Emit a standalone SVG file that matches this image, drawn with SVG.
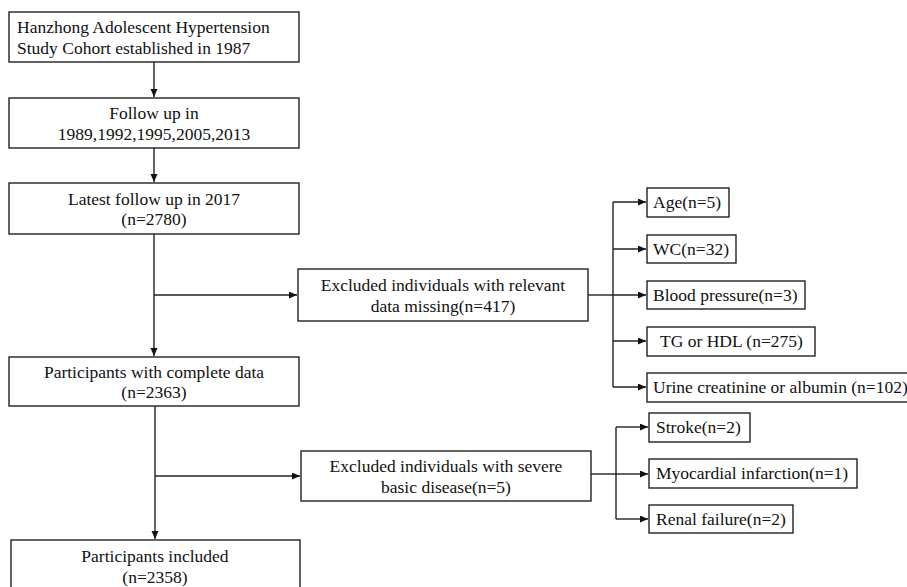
<svg xmlns="http://www.w3.org/2000/svg" width="907" height="587" viewBox="0 0 907 587">
<style>
.box{fill:#fff;stroke:#222;stroke-width:1.4}
.t{font-family:"Liberation Serif","Times New Roman",serif;font-size:17.5px;fill:#111}
.c{text-anchor:middle}
.ln{fill:none;stroke:#222;stroke-width:1.4}
</style>
<defs>
<marker id="ah" markerUnits="userSpaceOnUse" markerWidth="9" markerHeight="8" refX="8" refY="3.5" orient="auto">
<path d="M0,0 L8,3.5 L0,7 z" fill="#111"/>
</marker>
</defs>
<rect width="907" height="587" fill="#fff"/>
<g id="connectors">
<line class="ln" x1="154" y1="62" x2="154" y2="97" marker-end="url(#ah)"/>
<line class="ln" x1="154" y1="148" x2="154" y2="182" marker-end="url(#ah)"/>
<line class="ln" x1="154" y1="234" x2="154" y2="356" marker-end="url(#ah)"/>
<line class="ln" x1="154" y1="295" x2="297" y2="295" marker-end="url(#ah)"/>
<line class="ln" x1="155" y1="406" x2="155" y2="539" marker-end="url(#ah)"/>
<line class="ln" x1="155" y1="476" x2="300" y2="476" marker-end="url(#ah)"/>
<line class="ln" x1="588" y1="295" x2="613" y2="295"/>
<line class="ln" x1="613" y1="202" x2="613" y2="387"/>
<line class="ln" x1="613" y1="202" x2="646" y2="202" marker-end="url(#ah)"/>
<line class="ln" x1="613" y1="249" x2="646" y2="249" marker-end="url(#ah)"/>
<line class="ln" x1="613" y1="295" x2="646" y2="295" marker-end="url(#ah)"/>
<line class="ln" x1="613" y1="341" x2="646" y2="341" marker-end="url(#ah)"/>
<line class="ln" x1="613" y1="387" x2="646" y2="387" marker-end="url(#ah)"/>
<line class="ln" x1="591" y1="474" x2="616" y2="474"/>
<line class="ln" x1="616" y1="427" x2="616" y2="519"/>
<line class="ln" x1="616" y1="427" x2="648" y2="427" marker-end="url(#ah)"/>
<line class="ln" x1="616" y1="474" x2="648" y2="474" marker-end="url(#ah)"/>
<line class="ln" x1="616" y1="519" x2="648" y2="519" marker-end="url(#ah)"/>
</g>
<g id="n1"><rect class="box" x="9" y="12" width="290" height="50"/>
<text class="t" x="17" y="33">Hanzhong Adolescent Hypertension</text>
<text class="t" x="17" y="54">Study Cohort established in 1987</text></g>
<g id="n2"><rect class="box" x="9" y="98" width="290" height="50"/>
<text class="t c" x="154" y="119">Follow up in</text>
<text class="t c" x="154" y="140">1989,1992,1995,2005,2013</text></g>
<g id="n3"><rect class="box" x="9" y="183" width="290" height="51"/>
<text class="t c" x="154" y="205">Latest follow up in 2017</text>
<text class="t c" x="154" y="225">(n=2780)</text></g>
<g id="n4"><rect class="box" x="298" y="269" width="290" height="52"/>
<text class="t c" x="443" y="291">Excluded individuals with relevant</text>
<text class="t c" x="443" y="312">data missing(n=417)</text></g>
<g id="n5"><rect class="box" x="9" y="357" width="290" height="49"/>
<text class="t c" x="154" y="378">Participants with complete data</text>
<text class="t c" x="154" y="398">(n=2363)</text></g>
<g id="n6"><rect class="box" x="301" y="451" width="290" height="50"/>
<text class="t c" x="446" y="472">Excluded individuals with severe</text>
<text class="t c" x="446" y="493">basic disease(n=5)</text></g>
<g id="n7"><rect class="box" x="11" y="540" width="289" height="60"/>
<text class="t c" x="155" y="562">Participants included</text>
<text class="t c" x="155" y="583">(n=2358)</text></g>
<g id="a1"><rect class="box" x="647" y="188" width="82" height="29"/>
<text class="t" x="653" y="208">Age(n=5)</text></g>
<g id="a2"><rect class="box" x="647" y="235" width="89" height="28"/>
<text class="t" x="653" y="255">WC(n=32)</text></g>
<g id="a3"><rect class="box" x="647" y="281" width="158" height="28"/>
<text class="t" x="653" y="301">Blood pressure(n=3)</text></g>
<g id="a4"><rect class="box" x="647" y="327" width="168" height="29"/>
<text class="t" x="660" y="347">TG or HDL (n=275)</text></g>
<g id="a5"><rect class="box" x="647" y="373" width="275" height="29"/>
<text class="t" x="653" y="393">Urine creatinine or albumin (n=102)</text></g>
<g id="b1"><rect class="box" x="649" y="413" width="101" height="29"/>
<text class="t" x="656" y="433">Stroke(n=2)</text></g>
<g id="b2"><rect class="box" x="649" y="459" width="208" height="29"/>
<text class="t" x="656" y="479">Myocardial infarction(n=1)</text></g>
<g id="b3"><rect class="box" x="649" y="505" width="144" height="28"/>
<text class="t" x="656" y="525">Renal failure(n=2)</text></g>
</svg>
